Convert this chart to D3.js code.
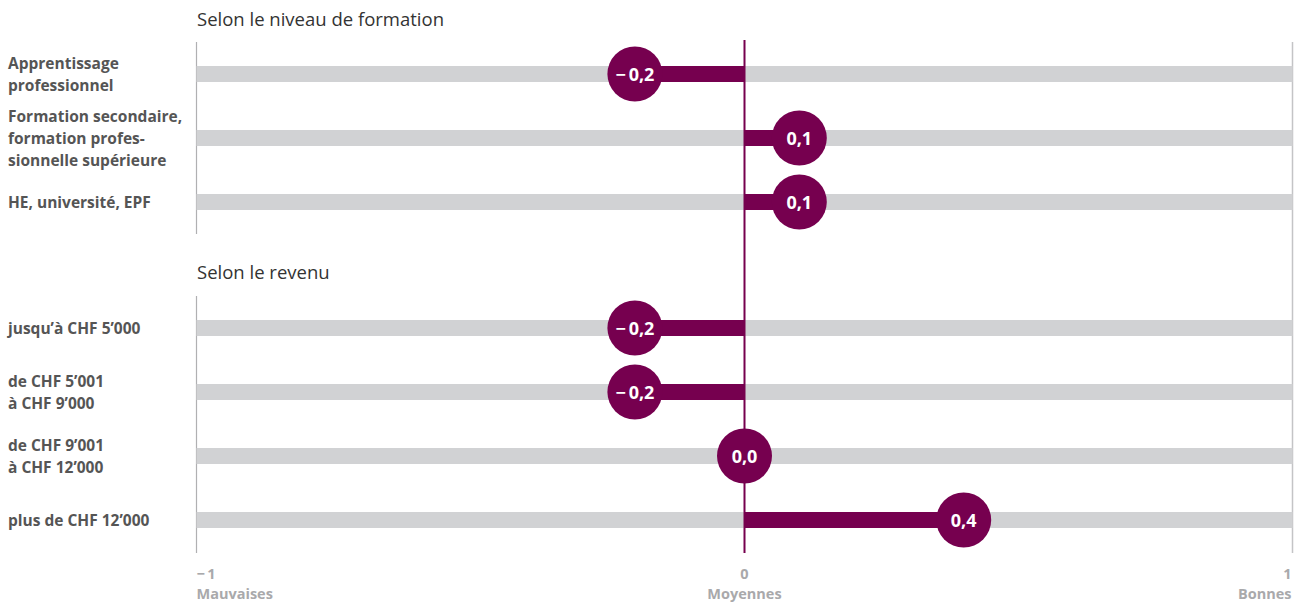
<!DOCTYPE html>
<html><head><meta charset="utf-8">
<script src="https://cdn.jsdelivr.net/npm/d3@7"></script>
<style>body{margin:0;background:#fff}svg{display:block}</style>
</head><body>
<script>
const sections = ["Selon le niveau de formation", "Selon le revenu"];
const eduCategories = [["Apprentissage","professionnel"],["Formation secondaire,","formation profes-","sionnelle supérieure"],["HE, université, EPF"]];
const eduValues = [-0.2, 0.1, 0.1];
const eduLabels = ["\u2212\u20090,2","0,1","0,1"];
const incCategories = [["jusqu\u2019à CHF 5\u2019000"],["de CHF 5\u2019001","à CHF 9\u2019000"],["de CHF 9\u2019001","à CHF 12\u2019000"],["plus de CHF 12\u2019000"]];
const incValues = [-0.2, -0.2, 0.0, 0.4];
const incLabels = ["\u2212\u20090,2","\u2212\u20090,2","0,0","0,4"];
const tickValues = [-1, 0, 1];
const tickLabels = ["\u2212\u20091", "0", "1"];
const tickNames = ["Mauvaises", "Moyennes", "Bonnes"];

const W = 1304, H = 606;
const purple = "#76004f", gray = "#d1d2d4";
const font = "'Open Sans', Lato, sans-serif";
const svg = d3.select("body").append("svg").attr("width", W).attr("height", H);
const x = d3.scaleLinear().domain([-1, 1]).range([196.5, 1292.5]);

const groups = [
  {title: sections[0], cats: eduCategories, vals: eduValues, labs: eduLabels, titleY: 26, y: d3.scalePoint().domain(d3.range(3)).range([74, 202]), lineY: [42, 234]},
  {title: sections[1], cats: incCategories, vals: incValues, labs: incLabels, titleY: 279, y: d3.scalePoint().domain(d3.range(4)).range([328, 520]), lineY: [296, 553]}
];

svg.append("line").attr("x1", x(1)).attr("x2", x(1)).attr("y1", 42).attr("y2", 553).attr("stroke", "#c4c4c6").attr("stroke-width", 1.5);

groups.forEach(g => {
  svg.append("text").attr("x", 197).attr("y", g.titleY).text(g.title)
    .attr("font-family", font).attr("font-size", 18.5).attr("fill", "#333");
  svg.append("line").attr("x1", x(-1)).attr("x2", x(-1)).attr("y1", g.lineY[0]).attr("y2", g.lineY[1]).attr("stroke", "#b0b0b2").attr("stroke-width", 1.2);
  const rows = g.vals.map((v, i) => ({v, i, cat: g.cats[i], lab: g.labs[i]}));
  svg.selectAll(null).data(rows).join("rect")
    .attr("x", x(-1)).attr("width", x(1) - x(-1))
    .attr("y", d => g.y(d.i) - 8).attr("height", 16).attr("fill", gray);
  const t = svg.selectAll(null).data(rows).join("text")
    .attr("font-family", font).attr("font-weight", "bold").attr("font-size", 15.5).attr("fill", "#555");
  t.each(function(d) {
    const n = d.cat.length;
    d3.select(this).selectAll("tspan").data(d.cat).join("tspan")
      .attr("x", 8).attr("y", (s, k) => g.y(d.i) + (k - (n - 1) / 2) * 22 + 5.5).text(s => s);
  });
  g.rows = rows;
});

svg.append("line").attr("x1", x(0)).attr("x2", x(0)).attr("y1", 40).attr("y2", 553).attr("stroke", purple).attr("stroke-width", 2);

groups.forEach(g => {
  const rows = g.rows;
  svg.selectAll(null).data(rows).join("rect")
    .attr("x", d => x(Math.min(0, d.v))).attr("width", d => Math.abs(x(d.v) - x(0)))
    .attr("y", d => g.y(d.i) - 8).attr("height", 16).attr("fill", purple);
  svg.selectAll(null).data(rows).join("circle")
    .attr("cx", d => x(d.v)).attr("cy", d => g.y(d.i)).attr("r", 27.5).attr("fill", purple);
  svg.selectAll(null).data(rows).join("text")
    .attr("x", d => x(d.v)).attr("y", d => g.y(d.i) + 6.5).attr("text-anchor", "middle")
    .attr("font-family", font).attr("font-weight", "bold").attr("font-size", 18).attr("fill", "#fff")
    .text(d => d.lab);
});

const anchors = ["start", "middle", "end"];
const ax = svg.append("g");
ax.selectAll(null).data(tickValues).join("text")
  .attr("x", (d, i) => x(d) + (i === 2 ? -1 : 0)).attr("y", 578.5)
  .attr("text-anchor", (d, i) => anchors[i])
  .attr("font-family", font).attr("font-weight", "bold").attr("font-size", 14.5).attr("fill", "#a9a9ab")
  .text((d, i) => tickLabels[i]);
ax.selectAll(null).data(tickValues).join("text")
  .attr("x", (d, i) => x(d) + (i === 2 ? -1 : 0)).attr("y", 598.5)
  .attr("text-anchor", (d, i) => anchors[i])
  .attr("font-family", font).attr("font-weight", "bold").attr("font-size", 14.5).attr("fill", "#a9a9ab")
  .text((d, i) => tickNames[i]);
</script>
</body></html>
